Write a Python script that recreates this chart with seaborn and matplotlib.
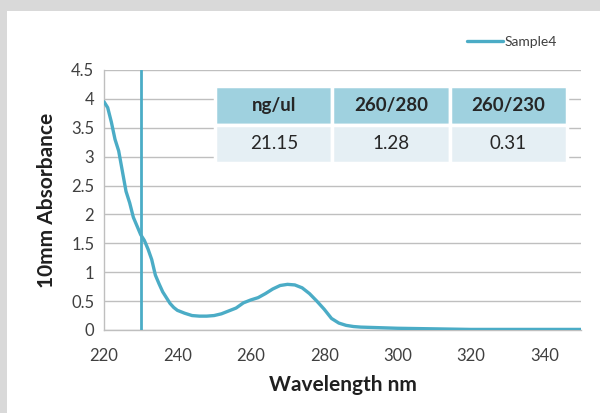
import numpy as np
import pandas as pd
import seaborn as sns
import matplotlib.pyplot as plt
from matplotlib.patches import Rectangle

# Absorbance spectrum
wavelength = [220, 221, 222, 223, 224, 225, 226, 227, 228, 229, 230, 231, 232, 233, 234,
              235, 236, 237, 238, 239, 240, 242, 244, 246, 248, 250, 252, 254, 256, 258,
              260, 262, 264, 266, 268, 270, 272, 274, 276, 278, 280, 282, 284, 286, 288,
              290, 295, 300, 310, 320, 330, 340, 350]
absorbance = [3.95, 3.85, 3.6, 3.3, 3.1, 2.75, 2.4, 2.2, 1.95, 1.8, 1.65, 1.55, 1.4, 1.22, 0.95,
              0.8, 0.66, 0.56, 0.46, 0.39, 0.34, 0.29, 0.25, 0.24, 0.24, 0.25, 0.28, 0.33, 0.38, 0.47,
              0.52, 0.56, 0.63, 0.71, 0.77, 0.79, 0.78, 0.73, 0.63, 0.5, 0.36, 0.2, 0.12, 0.08, 0.06,
              0.05, 0.04, 0.03, 0.02, 0.01, 0.01, 0.01, 0.01]
marker_nm = 230

table_header = ['ng/ul', '260/280', '260/230']
table_values = ['21.15', '1.28', '0.31']

df = pd.DataFrame({'Wavelength': wavelength, 'Absorbance': absorbance})

sns.set_theme(style='white')
plt.rcParams['font.family'] = ['Lato', 'DejaVu Sans']

line_col = '#4bacc6'
fig = plt.figure(figsize=(6, 4.13), dpi=100, facecolor='#d9d9d9')
fig.patches.append(Rectangle((7 / 600, 0), 1, 1 - 11 / 413, transform=fig.transFigure,
                             facecolor='white', edgecolor='none', zorder=-5))
ax = fig.add_axes([104 / 600, 1 - 330 / 413, 477 / 600, 260 / 413])
ax.set_zorder(2)
ax.set_facecolor('none')

sns.lineplot(data=df, x='Wavelength', y='Absorbance', ax=ax, color=line_col,
             linewidth=2.4, label='Sample4', zorder=3)
ax.axvline(marker_nm, color=line_col, linewidth=2, zorder=3)

ax.set_xlim(220, 350)
ax.set_ylim(0, 4.5)
ax.set_xticks(range(220, 341, 20))
ax.set_yticks(np.arange(0, 4.51, 0.5))
ax.set_yticklabels(['0', '0.5', '1', '1.5', '2', '2.5', '3', '3.5', '4', '4.5'])
ax.yaxis.grid(True, color='#bfbfbf', linewidth=1)
ax.set_axisbelow(True)
for s in ['top', 'right']:
    ax.spines[s].set_visible(False)
for s in ['left', 'bottom']:
    ax.spines[s].set_color('#bfbfbf')
    ax.spines[s].set_linewidth(1)
ax.tick_params(axis='x', direction='in', length=5, color='#bfbfbf', labelsize=12,
               labelcolor='#404040', pad=13)
ax.tick_params(axis='y', length=0, labelsize=12, labelcolor='#404040', pad=7)
ax.set_xlabel('Wavelength nm', fontsize=15, fontweight='bold', color='#202020', labelpad=8)
ax.set_ylabel('10mm Absorbance', fontsize=15, fontweight='bold', color='#202020', labelpad=10)

leg = ax.legend(loc='center right', bbox_to_anchor=(0.95, 1.108), frameon=False, fontsize=10,
                handlelength=2.6, handletextpad=0.1, borderaxespad=0, borderpad=0)
for t in leg.get_texts():
    t.set_color('#404040')

tab = ax.table(cellText=[table_header, table_values], cellLoc='center',
               bbox=[0.233, 0.642, 0.738, 0.296], zorder=4)
tab.auto_set_font_size(False)
for (r, c), cell in tab.get_celld().items():
    cell.set_edgecolor('white')
    cell.set_linewidth(2.5)
    if r == 0:
        cell.set_facecolor('#9fd1df')
        cell.get_text().set_fontweight('bold')
    else:
        cell.set_facecolor('#e5eff4')
    cell.get_text().set_fontsize(13.5)
    cell.get_text().set_color('#262626')

fig.savefig('out.png', dpi=100, facecolor=fig.get_facecolor())
